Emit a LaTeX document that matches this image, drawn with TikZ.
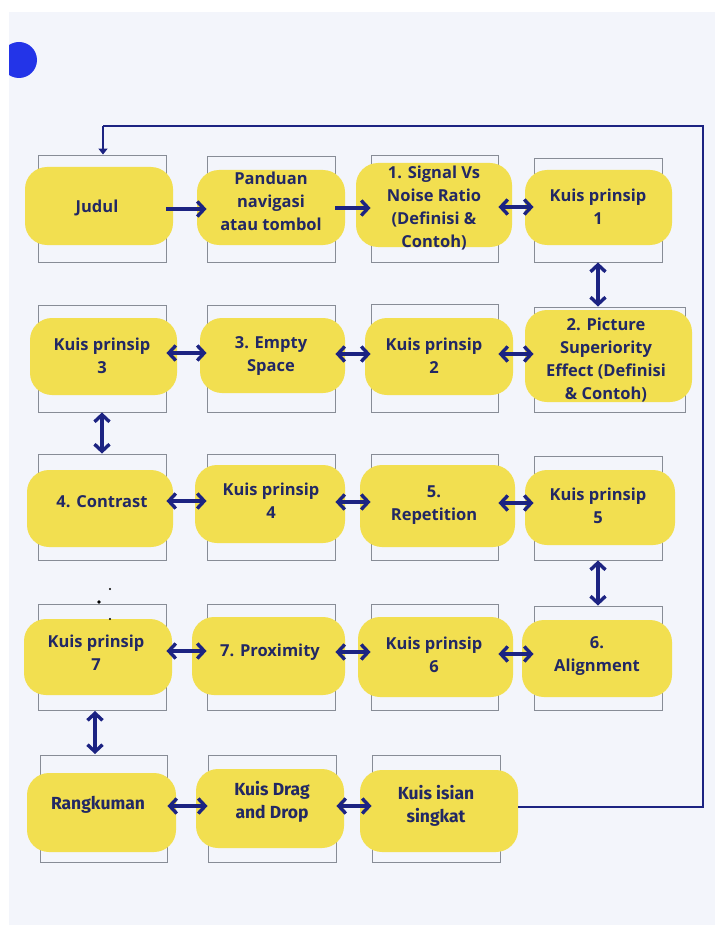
\documentclass[tikz,border=0pt]{standalone}
\usepackage{fontspec}
\setmainfont{Open Sans}
\newfontfamily\condfont{Fira Sans}
\usetikzlibrary{arrows.meta}
\definecolor{bgc}{RGB}{243,245,251}
\definecolor{blobc}{RGB}{242,223,80}
\definecolor{navy}{RGB}{28,35,130}
\definecolor{txtc}{RGB}{34,40,100}
\definecolor{framec}{RGB}{135,140,150}
\definecolor{dotc}{RGB}{35,52,232}
\tikzset{
  frame/.style={draw=framec, line width=0.9pt, inner sep=0pt},
  blob/.style={fill=blobc, rounded corners=22pt},
  lbl/.style={text=txtc, font=\fontsize{16.5}{23}\selectfont\bfseries, align=center, inner sep=0pt},
  lblc/.style={text=txtc, font=\fontsize{17.5}{23.5}\selectfont\condfont\bfseries, align=center, inner sep=0pt},
  tip/.style={Straight Barb[length=7pt,width=15pt,line width=3.4pt]},
  arr/.style={draw=navy, line width=4pt, -{Straight Barb[length=7pt,width=15pt,line width=3.4pt]}},
  darr/.style={draw=navy, line width=4pt, {Straight Barb[length=7pt,width=15pt,line width=3.4pt]}-{Straight Barb[length=7pt,width=15pt,line width=3.4pt]}},
  fb/.style={draw=navy, line width=2.4pt},
  fbarr/.style={draw=navy, line width=2.4pt, -{Triangle[length=6pt,width=9pt]}}
}
% \cell{name}{x1}{y1}{x2}{y2}{bx1}{by1}{bx2}{by2}
\newcommand{\cell}[9]{%
  \node[frame, minimum width={(#4-#2)*1pt}, minimum height={(#5-#3)*1pt}] (f#1) at ({(#2+#4)/2},{(#3+#5)/2}) {};
  \fill[blob] (#6,#7) rectangle (#8,#9);
}
\begin{document}
\begin{tikzpicture}[x=1pt,y=-1pt]
\useasboundingbox (0,0) rectangle (715,925);
\fill[white] (0,0) rectangle (715,925);
\fill[bgc] (9,12) rectangle (715,925);
\begin{scope}
\clip (9,0) rectangle (715,925);
\fill[dotc] (19,60) circle (18);
\end{scope}

% row 1
\cell{Judul}{38}{155}{166}{262}{25}{167}{173}{245}
\cell{Pand}{207}{156}{335}{262}{197}{170}{345}{245}
\cell{Sig}{371}{155}{498}{262}{356}{163}{512}{247}
\cell{Kone}{534}{158}{662}{262}{525}{170}{672}{245}
% row 2
\cell{Kthree}{38}{305}{166}{412}{30}{318}{177}{395}
\cell{Empty}{207}{305}{335}{412}{200}{318}{345}{393}
\cell{Ktwo}{371}{304}{498}{412}{365}{318}{513}{395}
\cell{Pic}{534}{307}{685}{412}{525}{310}{692}{402}
% row 3
\cell{Con}{38}{454}{166}{560}{27}{470}{173}{547}
\cell{Kfour}{207}{454}{335}{560}{195}{465}{345}{543}
\cell{Rep}{371}{454}{498}{560}{360}{465}{515}{547}
\cell{Kfive}{534}{456}{662}{560}{525}{470}{675}{545}
% row 4
\cell{Kseven}{38}{604}{166}{710}{24}{619}{172}{695}
\cell{Prox}{207}{604}{335}{710}{192}{617}{345}{695}
\cell{Ksix}{371}{604}{498}{710}{358}{617}{513}{697}
\cell{Align}{534}{606}{662}{710}{522}{620}{672}{697}
% row 5
\cell{Rang}{40}{755}{167}{862}{27}{773}{176}{852}
\cell{Drag}{208}{755}{336}{862}{196}{769}{344}{848}
\cell{Isian}{372}{755}{500}{862}{360}{770}{518}{852}

% texts
\node[lbl] (tJudul) at (97,208) {Judul};
\node[lbl] (tPand) at (271,201) {Panduan\\navigasi\\atau tombol};
\node[lbl] (tSig) at (434,208) {1. Signal Vs\\Noise Ratio\\(Definisi \&\\Contoh)};
\node[lbl] (tKone) at (598,207) {Kuis prinsip\\1};
\node[lbl] (tKthree) at (102,356) {Kuis prinsip\\3};
\node[lbl] (tEmpty) at (271,356) {3. Empty\\Space};
\node[lbl] (tKtwo) at (434,356) {Kuis prinsip\\2};
\node[lbl] (tPic) at (606,360) {2. Picture\\Superiority\\Effect (Definisi\\\& Contoh)};
\node[lbl] (tCon) at (102,502) {4. Contrast};
\node[lbl] (tKfour) at (271,501) {Kuis prinsip\\4};
\node[lbl] (tRep) at (434,505) {5.\\Repetition};
\node[lbl] (tKfive) at (598,506) {Kuis prinsip\\5};
\node[lbl] (tKseven) at (96,653) {Kuis prinsip\\7};
\node[lbl] (tProx) at (270,652) {7. Proximity};
\node[lbl] (tKsix) at (434,655) {Kuis prinsip\\6};
\node[lbl] (tAlign) at (597,656) {6.\\Alignment};
\node[lblc] (tRang) at (98,805) {Rangkuman};
\node[lblc] (tDrag) at (272,802) {Kuis Drag\\and Drop};
\node[lblc] (tIsian) at (436,806) {Kuis isian\\singkat};

% stray dots
\fill[black] (110,589) circle (1.1);
\fill[black] (99,602) circle (1.8);
\fill[black] (110,619) circle (1.1);

% row 1 arrows
\draw[arr] (fJudul.east |- 0,209) -- (fPand.west |- 0,209);
\draw[arr] (fPand.east |- 0,208) -- (fSig.west |- 0,208);
\draw[darr] (fSig.east |- 0,207) -- (fKone.west |- 0,207);
% vertical
\draw[darr] (fKone.south) -- (fKone.south |- fPic.north);
% row 2
\draw[darr] (fKthree.east |- 0,353) -- (fEmpty.west |- 0,353);
\draw[darr] (fEmpty.east |- 0,354) -- (fKtwo.west |- 0,354);
\draw[darr] (fKtwo.east |- 0,354) -- (fPic.west |- 0,354);
\draw[darr] (fKthree.south) -- (fCon.north);
% row 3
\draw[darr] (fCon.east |- 0,501) -- (fKfour.west |- 0,501);
\draw[darr] (fKfour.east |- 0,502) -- (fRep.west |- 0,502);
\draw[darr] (fRep.east |- 0,503) -- (fKfive.west |- 0,503);
\draw[darr] (fKfive.south) -- (fAlign.north);
% row 4
\draw[darr] (fKseven.east |- 0,651) -- (fProx.west |- 0,651);
\draw[darr] (fProx.east |- 0,652) -- (fKsix.west |- 0,652);
\draw[darr] (fKsix.east |- 0,654) -- (fAlign.west |- 0,654);
\draw[darr] (95,711) -- (95,754);
% row 5
\draw[darr] (fRang.east |- 0,806) -- (fDrag.west |- 0,806);
\draw[darr] (fDrag.east |- 0,806) -- (fIsian.west |- 0,806);

% feedback line
\coordinate (fbR) at (703,807);
\coordinate (fbT) at (703,126);
\coordinate (fbL) at (103,126);
\draw[fb] (518,807) -- (fbR) -- (fbT) -- (fbL);
\draw[fbarr] (fbL) -- (fbL |- fJudul.north);
\end{tikzpicture}
\end{document}
